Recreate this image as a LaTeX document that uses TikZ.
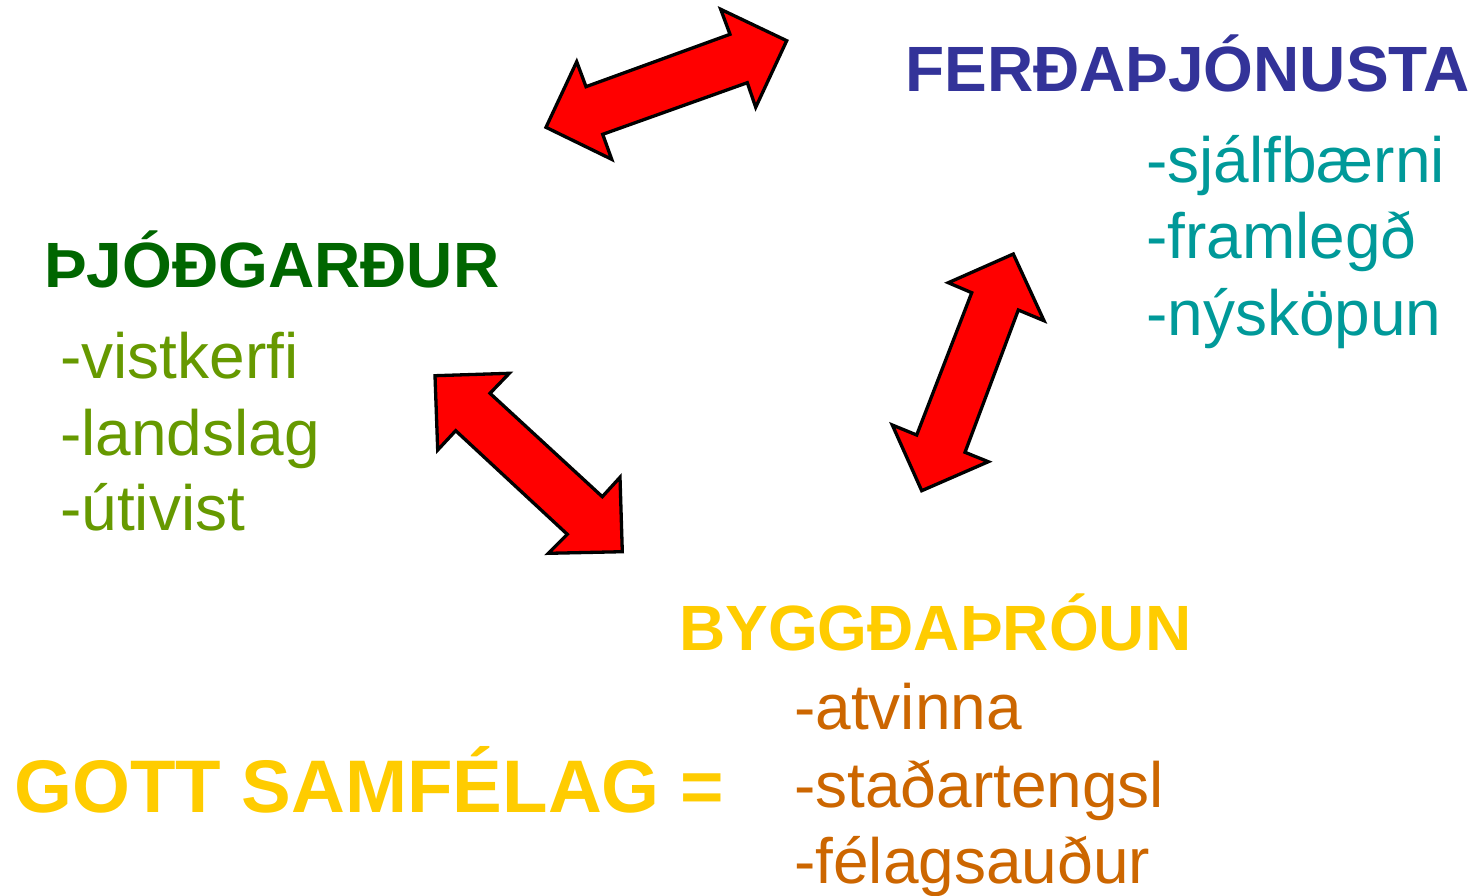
\documentclass[tikz,border=0pt]{standalone}
\usepackage{fontspec}
\setmainfont{Liberation Sans}
\definecolor{ferdcol}{HTML}{333399}
\definecolor{ferdsub}{HTML}{009999}
\definecolor{thjodcol}{HTML}{006600}
\definecolor{thjodsub}{HTML}{669900}
\definecolor{byggcol}{HTML}{FFCC00}
\definecolor{byggsub}{HTML}{CC6600}
\tikzset{
  head/.style={anchor=base west, inner sep=0pt, font=\fontsize{64}{70}\selectfont\bfseries},
  item/.style={anchor=base west, inner sep=0pt, font=\fontsize{64}{70}\selectfont},
  big/.style={anchor=base west, inner sep=0pt, font=\fontsize{74.5}{80}\selectfont\bfseries},
  dblarrow/.style={fill=red, draw=black, line width=3.3pt, line join=miter},
}
\begin{document}
\begin{tikzpicture}[x=1pt,y=-1pt]
\useasboundingbox (0,0) rectangle (1472,895);
% arrows
\filldraw[dblarrow] (786.7,40.7) -- (720.7,9.3) -- (730,34.3) -- (586,86.7) -- (576.7,61.7) -- (546,127.3) -- (611.7,159.3) -- (602.7,134.3) -- (747.3,82.7) -- (755.7,107.3) -- cycle;
\filldraw[dblarrow] (435,375.7) -- (509.3,373.3) -- (490,393.3) -- (602.3,496.7) -- (620,477.3) -- (622.3,551.7) -- (548.3,553.3) -- (567.3,534.3) -- (455.7,430.7) -- (437.7,450) -- cycle;
\filldraw[dblarrow] (1013.3,254) -- (1044,320.7) -- (1018.3,310) -- (965,452.3) -- (988.3,461.7) -- (921.7,490.7) -- (892.3,425) -- (916.7,435) -- (971.7,292.7) -- (948.3,282.7) -- cycle;
% FERDATHJONUSTA
\node[head, text=ferdcol] (ferd) at (905,91) {FERÐAÞJÓNUSTA};
\node[item, text=ferdsub] (f1) at (1146,182) {-sjálfbærni};
\node[item, text=ferdsub] (f2) at (1146,258) {-framlegð};
\node[item, text=ferdsub] (f3) at (1146,335) {-nýsköpun};
% THJODGARDUR
\node[head, text=thjodcol] (thjod) at (44,287) {ÞJÓÐGARÐUR};
\node[item, text=thjodsub] (t1) at (60,378) {-vistkerfi};
\node[item, text=thjodsub] (t2) at (60,455) {-landslag};
\node[item, text=thjodsub] (t3) at (60,530) {-útivist};
% BYGGDATHROUN
\node[head, text=byggcol] (bygg) at (679,650) {BYGGÐAÞRÓUN};
\node[item, text=byggsub] (b1) at (794,729) {-atvinna};
\node[item, text=byggsub] (b2) at (794,807) {-staðartengsl};
\node[item, text=byggsub] (b3) at (794,883) {-félagsauður};
% GOTT SAMFELAG
\node[big, text=byggcol] (gott) at (14,812) {GOTT SAMFÉLAG =};
\end{tikzpicture}
\end{document}
